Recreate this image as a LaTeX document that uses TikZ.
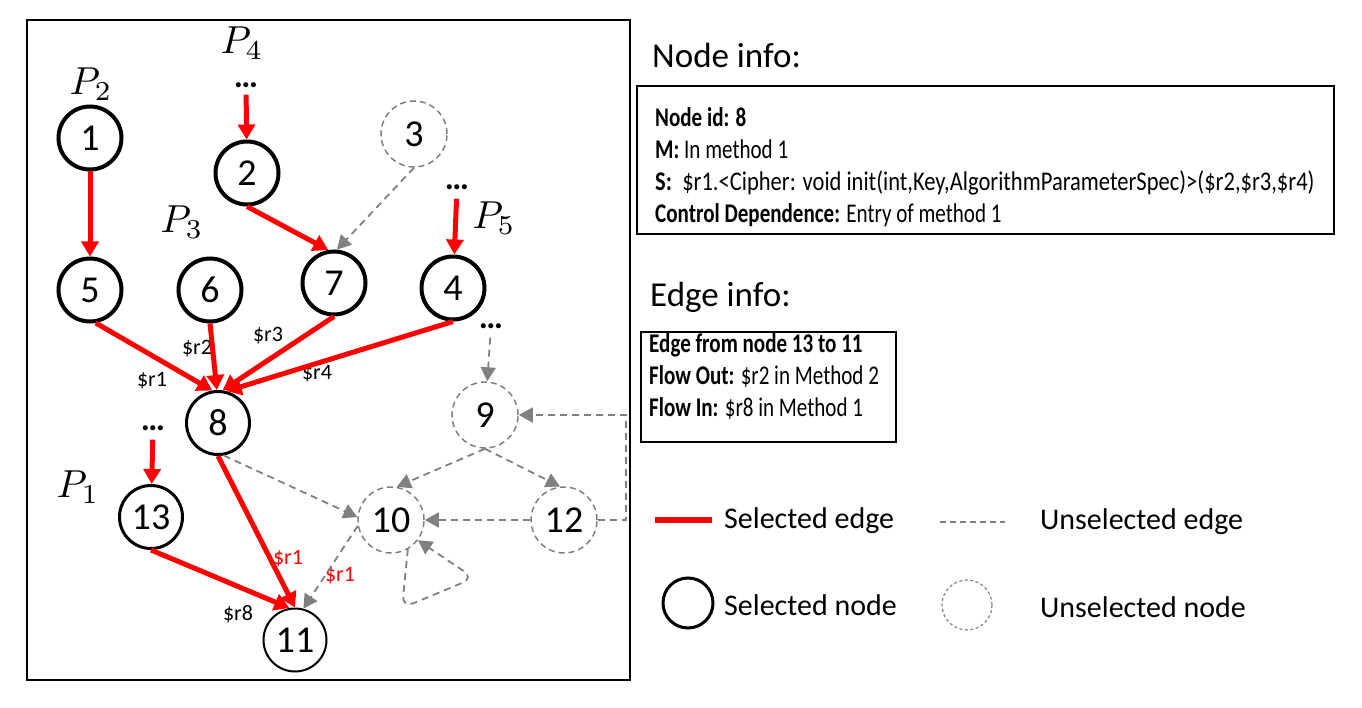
\documentclass[tikz,border=0pt]{standalone}
\usepackage{fontspec}
\setmainfont{Carlito}
\newfontfamily\infofont[FakeStretch=0.78]{Carlito}
\usepackage{tikz}
\usetikzlibrary{arrows.meta, positioning}
\tikzset{%
  selnode/.style={
    circle, draw, line width=4pt, minimum size=63pt, inner sep=0pt,
    font=\fontsize{38}{38}\selectfont},
  unselnode/.style={
    circle, draw=gray, line width=1.5pt, dash pattern=on 6pt off 4pt,
    minimum size=66pt, inner sep=0pt, font=\fontsize{38}{38}\selectfont},
  dots/.style={
    font=\fontsize{34}{34}\selectfont\bfseries, inner xsep=1pt, inner ysep=2pt},
  plabel/.style={inner sep=0pt},
  reglabel/.style={font=\fontsize{22}{22}\selectfont, inner sep=0pt},
  seledge/.style={
    draw=red, line width=5pt,
    -{Triangle[length=15pt,width=17pt]}},
  unseledge/.style={
    draw=gray, line width=1.8pt, dash pattern=on 7pt off 5pt,
    -{Triangle[length=14pt,width=15pt]}},
  legtext/.style={font=\fontsize{30}{30}\selectfont, anchor=west, inner sep=0pt}
}
\newcommand{\bigP}[1]{\scalebox{3.9}{$P_{#1}$}}

\begin{document}
\begin{tikzpicture}[x=1pt, y=-1pt]
    \useasboundingbox (0,0) rectangle (1362,708);
    \draw[line width=2pt] (27,20) rectangle (630,680);

    % nodes of the graph
    \node[selnode] (n1) at (90,138) {1};
    \node[selnode] (n2) at (247,173) {2};
    \node[unselnode] (n3) at (414,134) {3};
    \node[selnode] (n5) at (90,290) {5};
    \node[selnode] (n6) at (210,290) {6};
    \node[selnode] (n7) at (334,283) {7};
    \node[selnode] (n4) at (453,288) {4};
    \node[selnode, line width=3pt] (n8) at (218,423) {8};
    \node[unselnode] (n9) at (485,415) {9};
    \node[unselnode] (n10) at (391,520) {10};
    \node[unselnode] (n12) at (564,520) {12};
    \node[selnode, line width=3pt] (n13) at (151,517) {13};
    \node[selnode, line width=2pt] (n11) at (295,640) {11};

    \node[dots] (d2) at (246,85) {\ldots};
    \node[dots] (d4) at (457,187) {\ldots};
    \node[dots] (d9) at (491,326) {\ldots};
    \node[dots] (d13) at (153,428) {\ldots};

    \node[plabel] (p2) at (91,84) {\bigP{2}};
    \node[plabel] (p4) at (242,43) {\bigP{4}};
    \node[plabel] (p3) at (182,222) {\bigP{3}};
    \node[plabel] (p5) at (494,218) {\bigP{5}};
    \node[plabel] (p1) at (78,487) {\bigP{1}};

    \node[reglabel] (r1) at (152,381) {\$r1};
    \node[reglabel] (r2) at (197,349) {\$r2};
    \node[reglabel] (r3) at (268,336) {\$r3};
    \node[reglabel] (r4) at (317,374) {\$r4};
    \node[reglabel, text=red] (r1b) at (288,559) {\$r1};
    \node[reglabel, text=red] (r1c) at (340,576) {\$r1};
    \node[reglabel] (r8) at (238,614) {\$r8};

    \draw
      (n1) edge[seledge] (n5)
      (d2) edge[seledge, shorten <=5pt] (n2)
      (n2.south) edge[seledge] (n7.100)
      (n3.south) edge[unseledge] (n7.85)
      (d4) edge[seledge, shorten <=7pt] (n4)
      (n5.-80) edge[seledge] (n8.100)
      (n6.south) edge[seledge] (n8.92)
      (n7.south) edge[seledge] (n8.82)
      (n4.south) edge[seledge] (n8.75)
      (d9) edge[unseledge, shorten <=7pt] (n9)
      (d13) edge[seledge, shorten <=7pt] (n13)
      (n8.south) edge[seledge] (n11.north)
      (n13.south) edge[seledge] (n11.100)
      (n8.-80) edge[unseledge] (n10.175)
      (n10.190) edge[unseledge] (n11.75)
      (n9.south) edge[unseledge] (n10.80)
      (n9.south) edge[unseledge] (n12.97)
      (n12.west) edge[unseledge] (n10.east)
    ;
    \draw[unseledge] (n12.east) -- ++(28,0) |- (n9.east);
    \draw[unseledge, rounded corners=12pt]
      (n10.-60) -- (402,608) -- (474,578) -- (n10.-37);

    % info boxes
    \node[font=\fontsize{35}{35}\selectfont, anchor=west, inner sep=0pt]
      (nodetitle) at (652,55) {Node info:};
    \node[draw, line width=2pt, minimum width=697pt, minimum height=148pt,
      anchor=north west] (nodebox) at (636,85) {};
    \node[anchor=west, align=left, inner sep=0pt,
      font=\infofont\fontsize{27}{32}\selectfont] (nodetext) at (655,167)
      {\bfseries Node id: 8\\
       {\bfseries M:} In method 1\\
       \scalebox{1.07}[1]{{\bfseries S:}~~\$r1.<Cipher: void init(int,Key,AlgorithmParameterSpec)>(\$r2,\$r3,\$r4)}\\
       {\bfseries Control Dependence:} Entry of method 1};

    \node[font=\fontsize{35}{35}\selectfont, anchor=west, inner sep=0pt]
      (edgetitle) at (650,297) {Edge info:};
    \node[draw, line width=2pt, minimum width=255pt, minimum height=110pt,
      anchor=north west] (edgebox) at (640,331) {};
    \node[anchor=west, align=left, inner sep=0pt,
      font=\infofont\fontsize{27}{32}\selectfont] (edgetext) at (649,377)
      {\bfseries Edge from node 13 to 11\\
       {\bfseries Flow Out:} \$r2 in Method 2\\
       {\bfseries Flow In:} \$r8 in Method 1};

    % legend
    \draw[red, line width=6pt] (655,520) -- (712,520);
    \node[legtext] (lseledge) at (724,521) {Selected edge};
    \draw[gray, line width=1.5pt, dash pattern=on 6pt off 4pt] (940,522) -- (1005,522);
    \node[legtext] (lunseledge) at (1040,522) {Unselected edge};
    \node[circle, draw, line width=3pt, minimum size=50pt, inner sep=0pt]
      (lselnode) at (688,603) {};
    \node[legtext] (lselnodet) at (724,605) {Selected node};
    \node[circle, draw=gray, line width=1.2pt, dash pattern=on 3pt off 2.5pt,
      minimum size=50pt, inner sep=0pt] (lunselnode) at (967,605) {};
    \node[legtext] (lunselnodet) at (1040,607) {Unselected node};
\end{tikzpicture}
\end{document}
